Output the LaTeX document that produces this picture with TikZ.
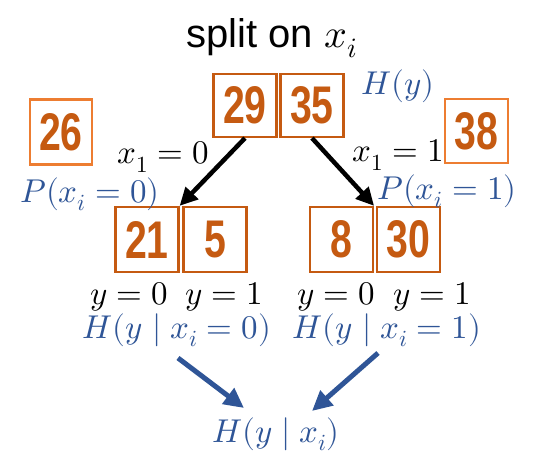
\documentclass[tikz,border=0pt]{standalone}
\usepackage{fontspec}
\usepackage{unicode-math}
\setmathfont{Latin Modern Math}
\setsansfont{Liberation Sans}
\newfontfamily\numfont[FakeStretch=0.74]{Liberation Sans}
\usetikzlibrary{arrows.meta}
\definecolor{orD}{HTML}{C55A11}
\definecolor{orL}{HTML}{ED7D31}
\definecolor{blu}{HTML}{2F5597}
\tikzset{
  cbox/.style={draw=orD, line width=2.2pt, fill=white, minimum width=63pt, minimum height=63pt, inner sep=0pt,
     text=orD, font=\numfont\bfseries\fontsize{53}{53}\selectfont},
  lbox/.style={cbox, draw=orL},
  mlab/.style={font=\fontsize{33}{33}\selectfont, inner sep=0pt},
  blab/.style={mlab, text=blu},
  blackarr/.style={line width=4.5pt, -{Triangle[length=18pt,width=17pt]}},
  bluearr/.style={line width=5pt, draw=blu, -{Triangle[length=20pt,width=19pt]}, fill=blu},
}
\begin{document}
\begin{tikzpicture}[x=1pt,y=-1pt]
\useasboundingbox[fill=white] (0,0) rectangle (533,454);
% title
\node[inner sep=0pt, font=\sffamily\fontsize{40}{40}\selectfont] (title) at (272,38) {split on $\mathsurround=0pt\fontsize{46}{46}\selectfont x_i$};
% boxes
\node[cbox, minimum height=63pt] (b29) at (245,105.5) {\raisebox{-3pt}{29}};
\node[cbox, minimum height=63pt] (b35) at (312,105.5) {\raisebox{-3pt}{35}};
\node[lbox, minimum width=62pt, minimum height=65pt] (b26) at (61,132) {26};
\node[lbox, minimum width=63pt, minimum height=64pt] (b38) at (476.5,131) {38};
\node[cbox, minimum height=65pt] (b21) at (147,239.5) {21};
\node[cbox, minimum height=65pt] (b5)  at (215,239.5) {5};
\node[cbox, minimum height=65pt] (b8)  at (341.5,239.5) {8};
\node[cbox, minimum height=65pt] (b30) at (408.5,239.5) {30};
% labels
\node[blab] (hy) at (398,86) {$H(y)$};
\node[mlab] (xl) at (163,157) {$x_1=0$};
\node[mlab] (xr) at (398,155) {$x_1=1$};
\node[blab] (pl) at (90,194) {$P(x_i=0)$};
\node[blab] (pr) at (447,191) {$P(x_i=1)$};
\node[mlab] (y1) at (129,297) {$y=0$};
\node[mlab] (y2) at (224,297) {$y=1$};
\node[mlab] (y3) at (336,297) {$y=0$};
\node[mlab] (y4) at (432,297) {$y=1$};
\node[blab] (hl) at (177,330) {$H(y\mid x_i=0)$};
\node[blab] (hr) at (387,330) {$H(y\mid x_i=1)$};
\node[blab] (hc) at (276,434) {$H(y\mid x_i)$};
% arrows
\draw[blackarr] (b29.south) -- (b21.north east);
\draw[blackarr] (b35.south) -- (b8.north east);
\coordinate (s1) at (178,358);
\coordinate (e1) at (244,408);
\coordinate (s2) at (378,353);
\coordinate (e2) at (312,411);
\draw[bluearr] (s1) -- (e1);
\draw[bluearr] (s2) -- (e2);
\end{tikzpicture}
\end{document}
